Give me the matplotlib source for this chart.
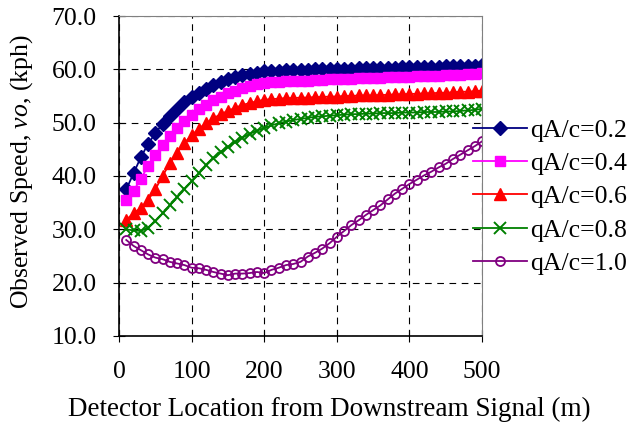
import matplotlib
matplotlib.use("Agg")
import matplotlib.pyplot as plt
import numpy as np

plt.rcParams['font.family'] = ['Liberation Serif', 'DejaVu Serif']
plt.rcParams['mathtext.fontset'] = 'custom'
plt.rcParams['mathtext.it'] = 'Liberation Serif:italic'
plt.rcParams['mathtext.rm'] = 'Liberation Serif'

# detector location (m)
loc = list(range(10, 510, 10))

# observed speed (kph) for each qA/c ratio
v02 = [37.5, 40.5, 43.5, 46.0, 48.0, 49.8, 51.3, 52.6, 53.8, 54.8,
       55.6, 56.3, 57.0, 57.6, 58.1, 58.5, 58.9, 59.2, 59.4, 59.6,
       59.7, 59.7, 59.8, 59.8, 59.9, 59.9, 60.0, 60.0, 60.0, 60.1,
       60.1, 60.1, 60.2, 60.2, 60.2, 60.3, 60.3, 60.3, 60.4, 60.4,
       60.4, 60.5, 60.5, 60.5, 60.6, 60.6, 60.6, 60.7, 60.7, 60.8]
v04 = [35.5, 37.2, 39.5, 41.8, 43.9, 45.8, 47.5, 49.0, 50.3, 51.5,
       52.5, 53.4, 54.2, 54.9, 55.5, 56.0, 56.5, 56.9, 57.2, 57.5,
       57.6, 57.7, 57.8, 57.8, 57.9, 57.9, 58.0, 58.0, 58.1, 58.1,
       58.2, 58.2, 58.3, 58.3, 58.4, 58.4, 58.5, 58.5, 58.6, 58.6,
       58.7, 58.7, 58.8, 58.8, 58.9, 58.9, 59.0, 59.1, 59.2, 59.3]
v06 = [31.8, 33.0, 34.0, 35.5, 37.5, 40.0, 42.4, 44.4, 46.2, 47.6,
       48.9, 49.9, 50.8, 51.6, 52.2, 52.8, 53.3, 53.7, 54.0, 54.3,
       54.4, 54.5, 54.6, 54.6, 54.7, 54.7, 54.8, 54.8, 54.9, 54.9,
       55.0, 55.0, 55.1, 55.1, 55.1, 55.2, 55.2, 55.3, 55.3, 55.4,
       55.4, 55.5, 55.5, 55.6, 55.6, 55.7, 55.8, 55.8, 55.9, 56.0]
v08 = [30.0, 29.8, 29.7, 30.3, 31.5, 33.0, 34.5, 36.0, 37.5, 39.0,
       40.5, 42.0, 43.3, 44.5, 45.5, 46.4, 47.2, 47.9, 48.5, 49.0,
       49.5, 49.9, 50.2, 50.5, 50.7, 50.9, 51.1, 51.2, 51.3, 51.4,
       51.5, 51.6, 51.6, 51.7, 51.7, 51.8, 51.8, 51.8, 51.9, 51.9,
       51.9, 52.0, 52.0, 52.0, 52.1, 52.1, 52.2, 52.3, 52.4, 52.6]
v10 = [28.0, 26.9, 26.1, 25.3, 24.7, 24.4, 23.9, 23.6, 23.3, 22.8,
       22.7, 22.4, 22.0, 21.7, 21.4, 21.7, 21.7, 21.8, 22.0, 21.8,
       22.4, 22.8, 23.3, 23.5, 23.9, 24.9, 25.6, 26.4, 27.4, 28.6,
       29.7, 30.8, 31.7, 32.7, 33.6, 34.5, 35.6, 36.7, 37.6, 38.5,
       39.3, 40.1, 40.8, 41.6, 42.3, 43.2, 44.0, 44.8, 45.6, 46.5]

labels = ["qA/c=0.2", "qA/c=0.4", "qA/c=0.6", "qA/c=0.8", "qA/c=1.0"]

fs = 18.5

fig = plt.figure(figsize=(6.31, 4.29), dpi=100)
ax = fig.add_axes([0.1886, 0.2168, 0.5754, 0.7459])

ax.plot(loc, v02, '-D', color='#000080', ms=7, lw=1.3, label=labels[0])
ax.plot(loc, v04, '-s', color='#FF00FF', ms=7, lw=1.3, label=labels[1])
ax.plot(loc, v06, '-^', color='#FF0000', ms=8, lw=1.3, label=labels[2])
ax.plot(loc, v08, '-x', color='#008000', ms=8, mew=1.4, lw=1.3, label=labels[3])
ax.plot(loc, v10, '-o', color='#800080', ms=6.5, mfc='none', mew=1.3, lw=1.3,
        label=labels[4])

ax.set_xlim(0, 500)
ax.set_ylim(10, 70)
ax.set_xticks(range(0, 600, 100))
ax.set_yticks(range(10, 80, 10))
ax.set_yticklabels(["%.1f" % t for t in range(10, 80, 10)])
ax.grid(True, color='black', linestyle=(0, (6, 5)), linewidth=0.8)
ax.tick_params(direction='inout', length=8, labelsize=fs)
ax.tick_params(axis='x', pad=14)
ax.tick_params(axis='y', pad=12)
for s in ['top', 'right']:
    ax.spines[s].set_color('#808080')
ax.spines['left'].set_linewidth(1.2)
ax.spines['bottom'].set_linewidth(1.2)

ax.set_xlabel("Detector Location from Downstream Signal (m)", fontsize=19.5)
ax.xaxis.set_label_coords(0.578, -0.19)
ax.set_ylabel("Observed Speed, $vo$, (kph)", fontsize=fs)
ax.yaxis.set_label_coords(-0.231, 0.515)

leg = fig.legend(loc='upper left', bbox_to_anchor=(0.749, 0.723),
                 bbox_transform=fig.transFigure, frameon=False, fontsize=fs,
                 handlelength=2.1, handletextpad=0.15, labelspacing=0.4,
                 borderaxespad=0, borderpad=0)

fig.savefig("out.png", dpi=100)
